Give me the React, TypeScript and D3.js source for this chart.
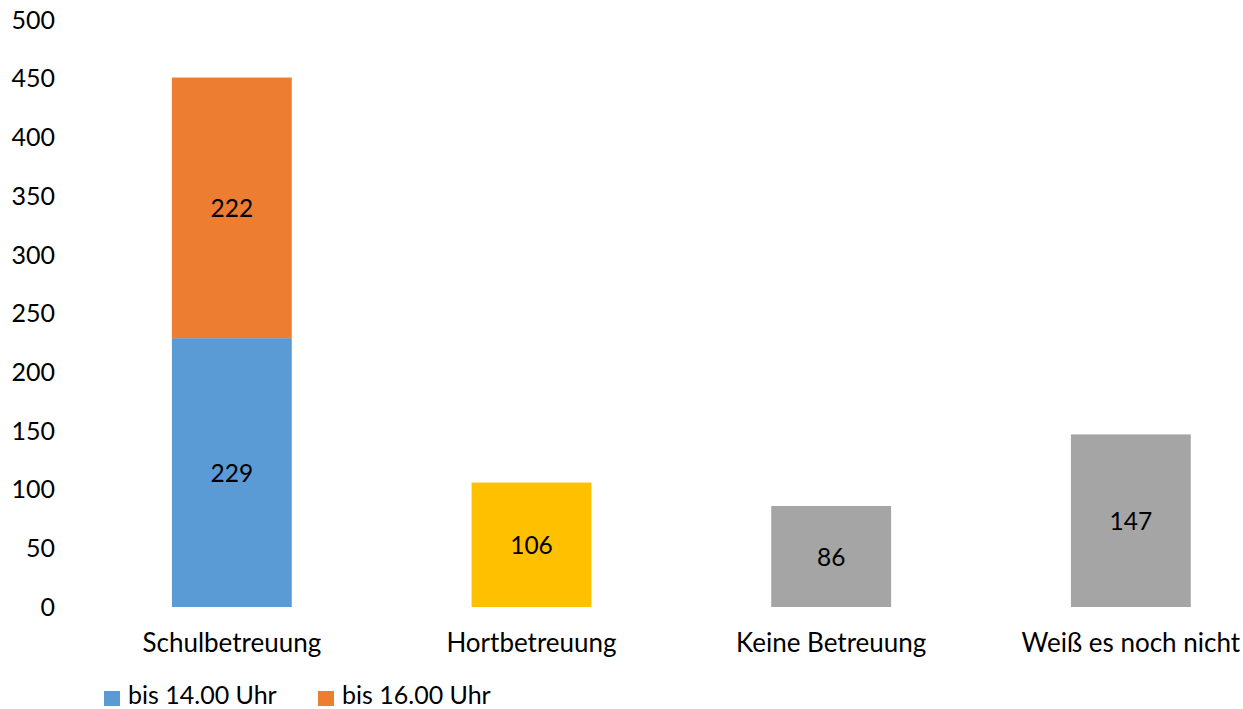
import React from 'react';
import * as d3 from 'd3';

const categories = ['Schulbetreuung', 'Hortbetreuung', 'Keine Betreuung', 'Weiß es noch nicht'];
const seriesNames = ['bis 14.00 Uhr', 'bis 16.00 Uhr', 'Hort', 'Sonstige'];
const bis14 = [229, 0, 0, 0];
const bis16 = [222, 0, 0, 0];
const hort = [0, 106, 0, 0];
const sonstige = [0, 0, 86, 147];
const colors = ['#5B9BD5', '#ED7D31', '#FFC000', '#A5A5A5'];
const legendSeries = ['bis 14.00 Uhr', 'bis 16.00 Uhr'];
const yTicks = [0, 50, 100, 150, 200, 250, 300, 350, 400, 450, 500];

const font = "Lato, 'Open Sans', sans-serif";

export default function App() {
  const width = 1243;
  const height = 709;

  const rows = categories.map((c, i) => ({
    category: c,
    [seriesNames[0]]: bis14[i],
    [seriesNames[1]]: bis16[i],
    [seriesNames[2]]: hort[i],
    [seriesNames[3]]: sonstige[i],
  }));

  const stacked = d3.stack<any>().keys(seriesNames)(rows);

  const x = d3
    .scaleBand()
    .domain(categories)
    .range([82, 82 + 4 * 299.67])
    .paddingInner(0.6)
    .paddingOuter(0.3);

  const y = d3.scaleLinear().domain([0, 500]).range([607, 20]);

  const color = d3.scaleOrdinal<string>().domain(seriesNames).range(colors);

  return (
    <svg width={width} height={height} style={{ position: 'absolute', left: 0, top: 0, background: '#fff' }}>
      <g key="y-ticks" fontFamily={font} fontSize={25} fill="#000" textAnchor="end">
        {yTicks.map((t) => (
          <text key={`tick-${t}`} x={55} y={y(t)} dy="0.35em">{t}</text>
        ))}
      </g>
      <g key="bars">
        {stacked.map((s) => (
          <g key={`series-${s.key}`} fill={color(s.key)}>
            {s.map((d, i) => {
              const v = d[1] - d[0];
              if (!v) return null;
              return (
                <rect
                  key={`bar-${s.key}-${i}`}
                  x={x(categories[i])}
                  y={y(d[1])}
                  width={x.bandwidth()}
                  height={y(d[0]) - y(d[1])} />
              );
            })}
          </g>
        ))}
      </g>
      <g key="values" fontFamily={font} fontSize={24.5} fill="#000" textAnchor="middle">
        {stacked.map((s) => s.map((d, i) => {
          const v = d[1] - d[0];
          if (!v) return null;
          return (
            <text
              key={`val-${s.key}-${i}`}
              x={x(categories[i])! + x.bandwidth() / 2}
              y={(y(d[0]) + y(d[1])) / 2 + 1}
              dy="0.35em">{v}</text>
          );
        }))}
      </g>
      <g key="x-labels" fontFamily={font} fontSize={26} fill="#000" textAnchor="middle">
        {categories.map((c) => (
          <text key={`cat-${c}`} x={x(c)! + x.bandwidth() / 2} y={643} dy="0.35em">{c}</text>
        ))}
      </g>
      <g key="legend" fontFamily={font} fontSize={25} fill="#000">
        {legendSeries.map((s, i) => (
          <g key={`legend-${s}`} transform={`translate(${104 + i * 214},691)`}>
            <rect width={16} height={15} fill={color(s)} />
            <text x={24} y={13}>{s}</text>
          </g>
        ))}
      </g>
    </svg>
  );
}
